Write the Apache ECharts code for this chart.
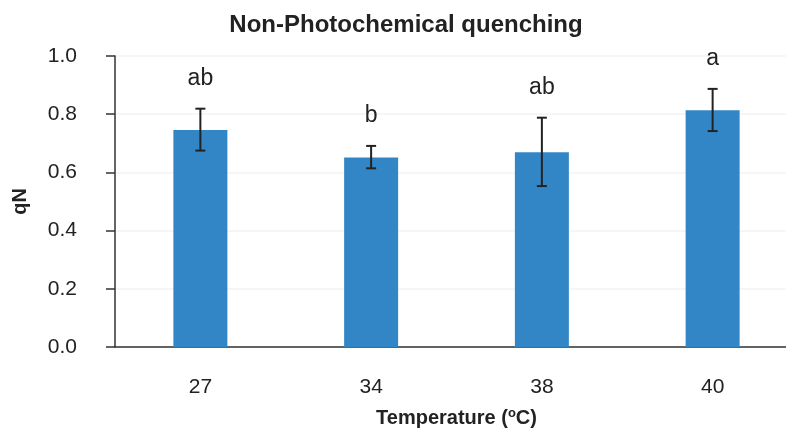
<!DOCTYPE html>
<html>
<head>
<meta charset="utf-8">
<script src="https://cdn.jsdelivr.net/npm/echarts@6/dist/echarts.min.js"></script>
<style>
  html, body { margin: 0; padding: 0; background: #fff; }
  #chart { width: 786px; height: 429px; }
</style>
</head>
<body>
<div id="chart"></div>
<script>
const temps = ["27", "34", "38", "40"];
const qN = [0.746, 0.651, 0.669, 0.814];
const errLow = [0.675, 0.614, 0.553, 0.742];
const errHigh = [0.819, 0.691, 0.788, 0.887];
const letters = ["ab", "b", "ab", "a"];
const yTicks = [0, 0.2, 0.4, 0.6, 0.8, 1.0];

let mychart = echarts.init(document.getElementById("chart"));

mychart.setOption({
  animation: false,
  title: {
    text: "Non-Photochemical quenching",
    left: 401,
    top: 8,
    textAlign: "center",
    textStyle: {
      fontFamily: "Liberation Sans",
      fontWeight: "bold",
      fontSize: 24,
      color: "#222"
    }
  },
  grid: {
    left: 115,
    right: -12,
    top: 56,
    bottom: 82,
    outerBoundsMode: "none"
  },
  xAxis: {
    type: "category",
    data: temps,
    name: "Temperature ({sup|o}C)",
    nameLocation: "middle",
    nameGap: 60,
    nameTextStyle: {
      fontFamily: "Liberation Sans",
      fontWeight: "bold",
      fontSize: 20,
      color: "#222",
      rich: {
        sup: {
          fontFamily: "Liberation Sans",
          fontWeight: "bold",
          fontSize: 13,
          color: "#222",
          verticalAlign: "top",
          padding: [0, 0, 9, 0]
        }
      }
    },
    axisLine: { lineStyle: { color: "#333", width: 1.5 } },
    axisTick: { alignWithLabel: true, length: 7, lineStyle: { color: "#333", width: 1.5 } },
    axisLabel: {
      margin: 30,
      fontFamily: "Liberation Sans",
      fontSize: 21,
      color: "#222"
    }
  },
  yAxis: {
    type: "value",
    min: yTicks[0],
    max: yTicks[yTicks.length - 1],
    interval: 0.2,
    name: "qN",
    nameLocation: "middle",
    nameRotate: 90,
    nameGap: 85,
    nameTextStyle: {
      fontFamily: "Liberation Sans",
      fontWeight: "bold",
      fontSize: 20,
      color: "#222"
    },
    axisLine: { show: true, lineStyle: { color: "#333", width: 1.5 } },
    axisTick: { show: true, length: 9, lineStyle: { color: "#333", width: 1.5 } },
    axisLabel: {
      margin: 38,
      fontFamily: "Liberation Sans",
      fontSize: 21,
      color: "#222",
      formatter: (v) => v.toFixed(1)
    },
    splitLine: { lineStyle: { color: "#f3f3f3", width: 1.5 } }
  },
  series: [
    {
      type: "bar",
      data: qN,
      barWidth: 54,
      itemStyle: { color: "#3386c6" }
    },
    {
      type: "custom",
      data: temps.map((t, i) => [i, errLow[i], errHigh[i]]),
      z: 5,
      renderItem: (params, api) => {
        let lo = api.coord([api.value(0), api.value(1)]);
        let hi = api.coord([api.value(0), api.value(2)]);
        let cap = 5;
        let style = { stroke: "#222", lineWidth: 2 };
        return {
          type: "group",
          children: [
            { type: "line", shape: { x1: hi[0], y1: hi[1], x2: lo[0], y2: lo[1] }, style },
            { type: "line", shape: { x1: hi[0] - cap, y1: hi[1], x2: hi[0] + cap, y2: hi[1] }, style },
            { type: "line", shape: { x1: lo[0] - cap, y1: lo[1], x2: lo[0] + cap, y2: lo[1] }, style },
            {
              type: "text",
              style: {
                text: letters[params.dataIndex],
                x: hi[0],
                y: hi[1] - 30,
                align: "center",
                verticalAlign: "middle",
                fontFamily: "Liberation Sans",
                fontSize: 23,
                fill: "#222"
              }
            }
          ]
        };
      }
    }
  ]
});
</script>
</body>
</html>
